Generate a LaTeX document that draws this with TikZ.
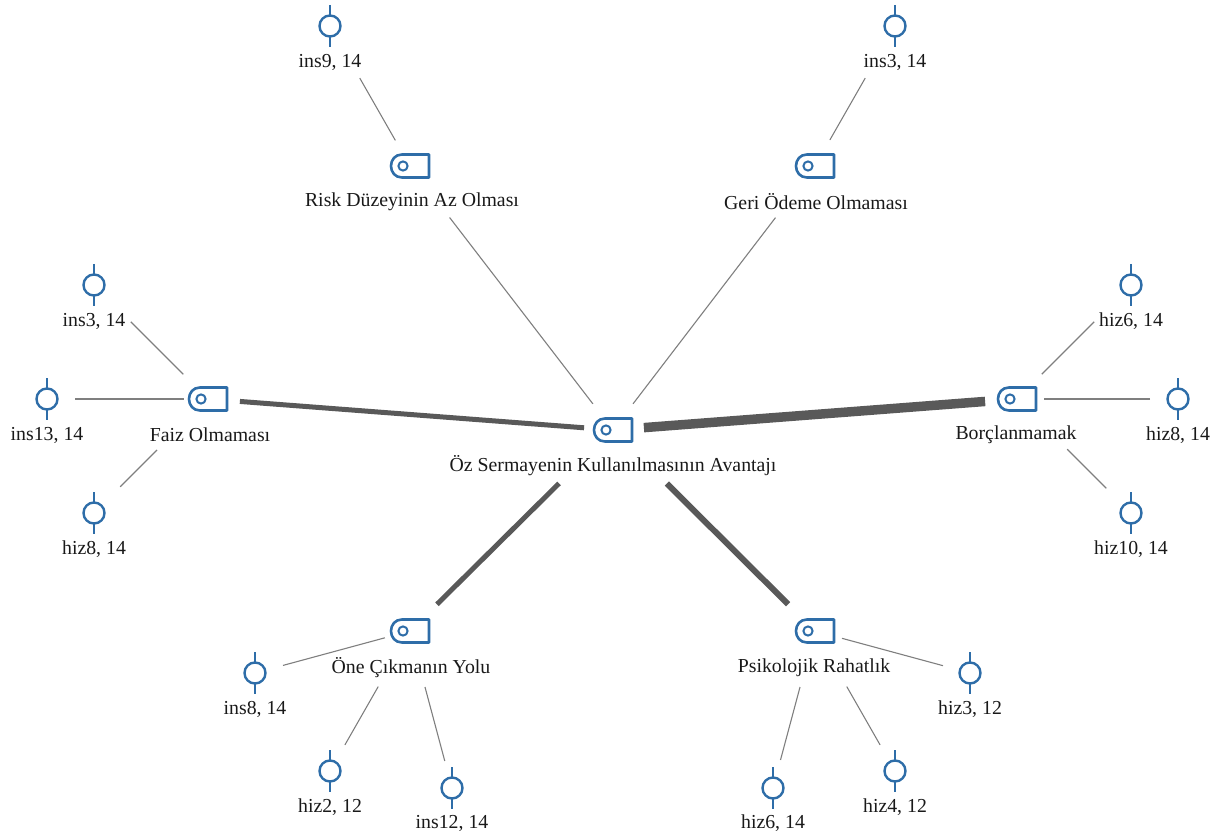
\documentclass[tikz,border=0pt]{standalone}
\usepackage{fontspec}
\setmainfont{Liberation Serif}
\definecolor{iconblue}{HTML}{2E6DA8}
\definecolor{linkgrey}{HTML}{7F7F7F}
\definecolor{heavygrey}{HTML}{595959}
\tikzset{
  x=1pt,y=-1pt,
  every node/.style={inner sep=0pt,outer sep=0pt},
  txt/.style={font=\fontsize{19.8}{22}\selectfont,text=black!90,anchor=center},
  codeent/.style={circle,draw=iconblue,line width=2.4pt,minimum size=21pt},
  stem/.style={draw=iconblue,line width=2.4pt},
  conceptent/.style={minimum width=38pt,minimum height=23pt},
  iconline/.style={draw=iconblue,line width=2.6pt,line join=round},
  lk/.style={draw=linkgrey,line width=1.1pt},
  hv/.style={draw=heavygrey,line width=#1},
}
\newcommand{\codeitem}[5]{% name x y text labely
  \node[codeent] (#1) at (#2,#3) {};
  \draw[stem] (#2,#3-21) -- (#1.north);
  \draw[stem] (#1.south) -- (#2,#3+21);
  \node[txt] (#1t) at (#2,#5) {#4};
}
\newcommand{\conceptitem}[6]{% name x y text labelx labely
  \node[conceptent] (#1) at (#2,#3) {};
  \draw[iconline] (#2+19,#3-11.5) -- (#2+19,#3+11.5) -- (#2-8,#3+11.5)
     .. controls (#2-15,#3+11.5) and (#2-19,#3+6) .. (#2-19,#3)
     .. controls (#2-19,#3-6) and (#2-15,#3-11.5) .. (#2-8,#3-11.5) -- cycle;
  \draw[iconline,line width=2pt] (#2-7,#3) circle[radius=4.6];
  \node[txt] (#1t) at (#5,#6) {#4};
}
\begin{document}
\begin{tikzpicture}
\useasboundingbox (0,0) rectangle (1219,837);
\conceptitem{main}{613}{430}{Öz Sermayenin Kullanılmasının Avantajı}{613}{466}
\conceptitem{risk}{410}{166}{Risk Düzeyinin Az Olması}{412}{202}
\conceptitem{geri}{815}{166}{Geri Ödeme Olmaması}{816}{202}
\conceptitem{faiz}{208}{399}{Faiz Olmaması}{210}{435}
\conceptitem{borc}{1017}{399}{Borçlanmamak}{1016}{435}
\conceptitem{one}{410}{631}{Öne Çıkmanın Yolu}{411}{668}
\conceptitem{psik}{815}{631}{Psikolojik Rahatlık}{814}{668}
\codeitem{a}{330}{26}{ins9, 14}{62}
\codeitem{b}{895}{26}{ins3, 14}{62}
\codeitem{c}{94}{285}{ins3, 14}{321}
\codeitem{d}{47}{399}{ins13, 14}{435}
\codeitem{e}{94}{513}{hiz8, 14}{549}
\codeitem{f}{1131}{285}{hiz6, 14}{321}
\codeitem{g}{1178}{399}{hiz8, 14}{435}
\codeitem{h}{1131}{513}{hiz10, 14}{549}
\codeitem{i}{255}{673}{ins8, 14}{709}
\codeitem{j}{330}{771}{hiz2, 12}{807}
\codeitem{k}{452}{788}{ins12, 14}{823}
\codeitem{l}{970}{673}{hiz3, 12}{709}
\codeitem{m}{773}{788}{hiz6, 14}{823}
\codeitem{n}{895}{771}{hiz4, 12}{807}
\draw[lk,shorten <=60pt,shorten >=29.5pt] (a.center) -- (risk.center);
\draw[lk,shorten <=60pt,shorten >=30pt] (b.center) -- (geri.center);
\draw[lk,shorten <=65pt,shorten >=33pt] (risk.center) -- (main.center);
\draw[lk,shorten <=65pt,shorten >=33pt] (geri.center) -- (main.center);
\draw[hv=5pt,shorten <=32pt,shorten >=29pt] (faiz.center) -- (main.center);
\draw[hv=9.5pt,shorten <=31pt,shorten >=32pt] (main.center) -- (borc.center);
\draw[hv=5pt,shorten <=76pt,shorten >=38pt] (main.center) -- (one.center);
\draw[hv=6pt,shorten <=76pt,shorten >=38pt] (main.center) -- (psik.center);
\draw[lk,shorten <=52pt,shorten >=35pt] (c.center) -- (faiz.center);
\draw[lk,shorten <=28pt,shorten >=24pt] (d.center) -- (faiz.center);
\draw[lk,shorten <=37pt,shorten >=72pt] (e.center) -- (faiz.center);
\draw[lk,shorten <=52pt,shorten >=35pt] (f.center) -- (borc.center);
\draw[lk,shorten <=28pt,shorten >=27pt] (g.center) -- (borc.center);
\draw[lk,shorten <=35pt,shorten >=71pt] (h.center) -- (borc.center);
\draw[lk,shorten <=29pt,shorten >=26pt] (i.center) -- (one.center);
\draw[lk,shorten <=30pt,shorten >=64pt] (j.center) -- (one.center);
\draw[lk,shorten <=28pt,shorten >=58pt] (k.center) -- (one.center);
\draw[lk,shorten <=28pt,shorten >=28pt] (l.center) -- (psik.center);
\draw[lk,shorten <=29pt,shorten >=58pt] (m.center) -- (psik.center);
\draw[lk,shorten <=30pt,shorten >=64pt] (n.center) -- (psik.center);
\end{tikzpicture}
\end{document}
